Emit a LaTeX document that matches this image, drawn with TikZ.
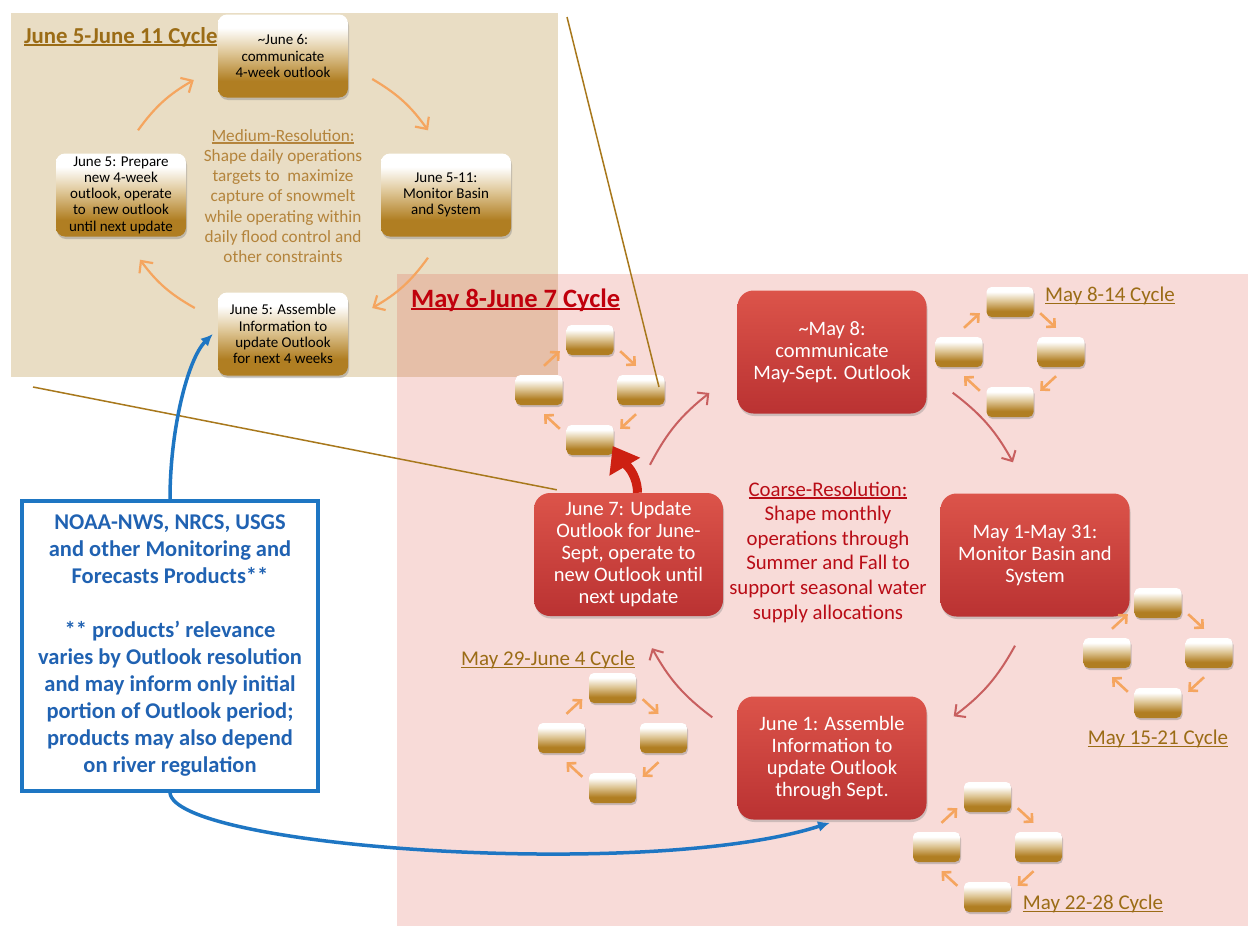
\documentclass[tikz,border=0pt]{standalone}
\usepackage{fontspec}
\setmainfont{Carlito}
\usepackage{tikz}
\usetikzlibrary{arrows.meta,calc,shadows}
\newdimen\ulwd
\newsavebox\ulbox
\newcommand\ulx[1]{\sbox\ulbox{#1}\ulwd=\wd\ulbox\rlap{\usebox\ulbox}\rule[-2.5pt]{\ulwd}{1.4pt}}

\definecolor{tanbg}{RGB}{233,221,196}
\definecolor{pinkbg}{RGB}{220,75,60}
\definecolor{tanD}{RGB}{176,126,34}
\definecolor{tanM}{RGB}{222,198,150}
\definecolor{redL}{RGB}{220,84,74}
\definecolor{redD}{RGB}{186,50,50}
\definecolor{orangearr}{RGB}{245,165,95}
\definecolor{redarr}{RGB}{200,95,95}
\definecolor{goldtxt}{RGB}{155,108,22}
\definecolor{medtxt}{RGB}{180,132,60}
\definecolor{coarsetxt}{RGB}{185,12,22}
\definecolor{titlered}{RGB}{192,0,12}
\definecolor{bluebox}{RGB}{30,118,195}
\definecolor{bluetxt}{RGB}{32,98,178}
\definecolor{linegold}{RGB}{168,120,28}
\definecolor{bigred}{RGB}{205,32,18}
\pgfdeclareverticalshading{tanshade}{100bp}{color(0bp)=(tanD); color(35bp)=(tanD); color(52bp)=(tanM); color(67bp)=(white); color(100bp)=(white)}

\tikzset{
  minibox/.style={rounded corners=5pt, minimum width=47pt, minimum height=30pt, inner sep=0pt,
    shading=tanshade, drop shadow={shadow xshift=1pt, shadow yshift=-2pt, opacity=0.4}},
  miniarr/.style={draw=orangearr, line width=2.6pt, -{Straight Barb[length=6pt,width=12pt]}},
  minicycle/.pic={
    \node[minibox] (-t) at (0,-50) {};
    \node[minibox] (-l) at (-51,0) {};
    \node[minibox] (-r) at (51,0) {};
    \node[minibox] (-b) at (0,50) {};
    \draw[miniarr] ([shift={(5,-9)}]-l.north) -- ([shift={(-6.5,-4)}]-t.south west);
    \draw[miniarr] ([shift={(6.5,-4)}]-t.south east) -- ([shift={(-5,-9)}]-r.north);
    \draw[miniarr] ([shift={(-5,9)}]-r.south) -- ([shift={(6.5,4)}]-b.north east);
    \draw[miniarr] ([shift={(-6.5,4)}]-b.north west) -- ([shift={(5,9)}]-l.south);
  }
}

\begin{document}
\begin{tikzpicture}[x=1pt,y=-1pt,
  tanbox/.style={rounded corners=9pt, minimum width=130pt, minimum height=83pt, align=center, inner sep=1pt,
    shading=tanshade, drop shadow={shadow xshift=1pt, shadow yshift=-2.5pt, opacity=0.4},
    font=\fontsize{15}{16.2}\selectfont},
  redbox/.style={rounded corners=16pt, minimum width=189pt, minimum height=123pt, align=center, text=white,
    top color=redL, bottom color=redD, drop shadow={shadow xshift=1pt, shadow yshift=-2.5pt, opacity=0.35},
    font=\fontsize{20.5}{22}\selectfont},
  cyclabel/.style={text=goldtxt, font=\fontsize{21}{24}\selectfont, inner sep=0pt},
  orarr/.style={draw=orangearr, line width=2.2pt, -{Straight Barb[length=9pt,width=17pt]}},
  redarr/.style={draw=redarr, line width=2pt, -{Straight Barb[length=8pt,width=16pt]}},
  bluearr/.style={draw=bluebox, line width=3.5pt, -{Latex[length=12pt,width=11pt]}},
  zoomline/.style={draw=linegold, line width=1.5pt}]
\useasboundingbox (0,0) rectangle (1248,926);
\fill[white] (0,0) rectangle (1248,926);
\fill[tanbg] (11,13) rectangle (558,377);
\fill[pinkbg, fill opacity=0.2] (397,274) rectangle (1248,926);

\node[font=\bfseries\fontsize{22.8}{26}\selectfont, text=goldtxt, anchor=base west, inner sep=0pt] (tantitle) at (24,43) {\ulx{June 5-June 11 Cycle}};
\node[font=\bfseries\fontsize{26.5}{30}\selectfont, text=titlered, anchor=base west, inner sep=0pt] (pinktitle) at (411,307) {\ulx{May 8-June 7 Cycle}};

\node[tanbox] (comm) at (283,56) {\textasciitilde June 6:\\communicate\\4-week outlook};
\node[tanbox] (prep) at (121,195) {June 5: Prepare\\new 4-week\\outlook, operate\\to\ \ new outlook\\until next update};
\node[tanbox] (mon) at (446,195) {June 5-11:\\Monitor Basin\\and System};
\node[tanbox] (asm) at (283,334) {June 5: Assemble\\Information to\\update Outlook\\for next 4 weeks};
\node[text=medtxt, align=center, font=\fontsize{17.2}{20.3}\selectfont] (medium) at (283,196) {\ulx{Medium-Resolution:}\\Shape daily operations\\targets to\ \ maximize\\capture of snowmelt\\while operating within\\daily flood control and\\other constraints};

\draw[orarr] ([shift={(17,-23)}]prep.north) to[bend left=12] ([shift={(-24,24)}]comm.west);
\draw[orarr] ([shift={(24,23)}]comm.east) to[bend left=12] ([shift={(-18,-23)}]mon.north);
\draw[orarr] ([shift={(-18,21)}]mon.south) to[bend left=12] ([shift={(24,-26)}]asm.east);
\draw[orarr] ([shift={(-23,-26)}]asm.west) to[bend left=12] ([shift={(19,23)}]prep.south);

\node[redbox] (may8) at (832,352) {\textasciitilde May 8:\\communicate\\May-Sept. Outlook};
\node[redbox] (may1) at (1035,555) {May 1-May 31:\\Monitor Basin and\\System};
\node[redbox] (jun7) at (628.5,554.5) {June 7: Update\\Outlook for June-\\Sept, operate to\\new Outlook until\\next update};
\node[redbox] (jun1) at (832,758) {June 1: Assemble\\Information to\\update Outlook\\through Sept.};
\node[text=coarsetxt, align=center, font=\fontsize{20.8}{24.6}\selectfont] (coarse) at (828,552) {\ulx{Coarse-Resolution:}\\Shape monthly\\operations through\\Summer and Fall to\\support seasonal water\\supply allocations};

\draw[redarr] ([shift={(21.5,-28)}]jun7.north) to[bend left=12] ([shift={(-28,41)}]may8.west);
\draw[redarr] ([shift={(26,-21)}]may8.south east) to[bend left=12] ([shift={(-22,-31)}]may1.north);
\draw[redarr] ([shift={(-20,29)}]may1.south) to[bend left=12] ([shift={(27,20)}]jun1.north east);
\draw[redarr] ([shift={(-25,21)}]jun1.north west) to[bend left=12] ([shift={(23.5,32)}]jun7.south);

\pic (cyca) at (590,390) {minicycle};
\pic (cycb) at (1010,352) {minicycle};
\pic (cycc) at (1158,653) {minicycle};
\pic (cycd) at (987.5,847) {minicycle};
\pic (cyce) at (612.5,738) {minicycle};
\node[cyclabel] (labb) at (1110,296) {\ulx{May 8-14 Cycle}};
\node[cyclabel] (labc) at (1158,739) {\ulx{May 15-21 Cycle}};
\node[cyclabel] (labd) at (1093,904) {\ulx{May 22-28 Cycle}};
\node[cyclabel] (labe) at (548,660) {\ulx{May 29-June 4 Cycle}};

\draw[draw=bigred, line width=9pt, -{Triangle[length=24pt,width=34pt]}] ([shift={(9,0)}]jun7.north) .. controls +(0,-22) and +(7,12) .. ([shift={(-1,6)}]cyca-b.east);

\coordinate (zoomA) at (567,17);
\coordinate (zoomB) at (33,387);
\draw[zoomline] (zoomA) -- ([shift={(18,-3)}]cyca-r.center);
\draw[zoomline] (zoomB) -- ([shift={(23,-3)}]jun7.north west);

\node[draw=bluebox, line width=3.5pt, fill=white, minimum width=296pt, minimum height=290pt, align=center,
  text=bluetxt, font=\bfseries\fontsize{22.5}{27}\selectfont] (products) at (170,646)
  {NOAA-NWS, NRCS, USGS\\and other Monitoring and\\Forecasts Products**\\[27pt]** products’ relevance\\varies by Outlook resolution\\and may inform only initial\\portion of Outlook period;\\products may also depend\\on river regulation};
\draw[bluearr] (products.north) .. controls +(0,-70) and +(-25,25) .. ([xshift=-5pt]asm.west);
\draw[bluearr] (products.south) .. controls +(5,55) and +(-180,58) .. ([shift={(-2,3)}]jun1.south);
\end{tikzpicture}
\end{document}
